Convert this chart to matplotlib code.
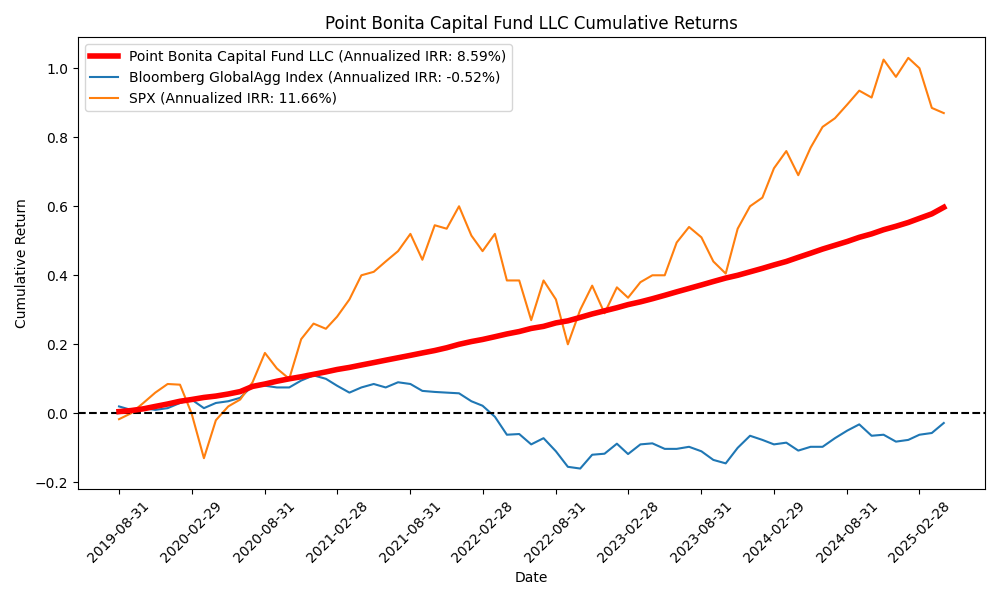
import numpy as np
import pandas as pd
from matplotlib import pyplot as plt

dates = pd.date_range('2019-08-31', periods=69, freq='ME')

fund = [0.005, 0.008, 0.013, 0.02, 0.027, 0.035, 0.04, 0.046, 0.05, 0.056,
        0.063, 0.078, 0.085, 0.093, 0.1, 0.106, 0.113, 0.12, 0.127, 0.133,
        0.14, 0.147, 0.154, 0.161, 0.168, 0.175, 0.182, 0.19, 0.2, 0.208,
        0.214, 0.222, 0.23, 0.237, 0.246, 0.252, 0.262, 0.268, 0.278, 0.288,
        0.297, 0.306, 0.315, 0.323, 0.332, 0.342, 0.352, 0.362, 0.372, 0.382,
        0.392, 0.4, 0.41, 0.42, 0.43, 0.44, 0.452, 0.464, 0.476, 0.487,
        0.498, 0.51, 0.52, 0.532, 0.542, 0.553, 0.565, 0.578, 0.597]

bbg = [0.02, 0.01, 0.015, 0.01, 0.015, 0.03, 0.04, 0.015, 0.03, 0.035,
       0.045, 0.08, 0.08, 0.075, 0.075, 0.095, 0.11, 0.10, 0.08, 0.06,
       0.075, 0.085, 0.075, 0.09, 0.085, 0.065, 0.062, 0.06, 0.058, 0.035,
       0.022, -0.01, -0.062, -0.06, -0.09, -0.072, -0.11, -0.155, -0.16, -0.12,
       -0.117, -0.088, -0.118, -0.09, -0.087, -0.103, -0.103, -0.097, -0.11, -0.135,
       -0.145, -0.10, -0.065, -0.077, -0.09, -0.085, -0.108, -0.097, -0.097, -0.072,
       -0.05, -0.032, -0.065, -0.062, -0.082, -0.077, -0.062, -0.057, -0.028]

spx = [-0.017, 0.0, 0.03, 0.06, 0.085, 0.083, 0.0, -0.13, -0.02, 0.02,
       0.04, 0.09, 0.175, 0.13, 0.10, 0.215, 0.26, 0.245, 0.28, 0.33,
       0.40, 0.41, 0.44, 0.47, 0.52, 0.445, 0.545, 0.535, 0.60, 0.515,
       0.47, 0.52, 0.385, 0.385, 0.27, 0.385, 0.33, 0.20, 0.30, 0.37,
       0.29, 0.365, 0.335, 0.38, 0.40, 0.40, 0.495, 0.54, 0.51, 0.44,
       0.405, 0.535, 0.60, 0.625, 0.71, 0.76, 0.69, 0.77, 0.83, 0.855,
       0.895, 0.935, 0.915, 1.025, 0.975, 1.03, 1.00, 0.885, 0.87]

fig = plt.figure(figsize=(10, 6), dpi=100)
ax = fig.add_subplot(111)

ax.plot(dates, fund, color='red', linewidth=4, label='Point Bonita Capital Fund LLC (Annualized IRR: 8.59%)', zorder=3)
ax.plot(dates, bbg, color='#1f77b4', label='Bloomberg GlobalAgg Index (Annualized IRR: -0.52%)')
ax.plot(dates, spx, color='#ff7f0e', label='SPX (Annualized IRR: 11.66%)')
ax.axhline(0, color='black', linestyle='--')

ticks = dates[::6]
ax.set_xticks(ticks)
ax.set_xticklabels([d.strftime('%Y-%m-%d') for d in ticks], rotation=45)

ax.set_title('Point Bonita Capital Fund LLC Cumulative Returns')
ax.set_xlabel('Date')
ax.set_ylabel('Cumulative Return')
ax.legend(loc='upper left')
plt.tight_layout()
plt.savefig('out.png')
plt.close()
